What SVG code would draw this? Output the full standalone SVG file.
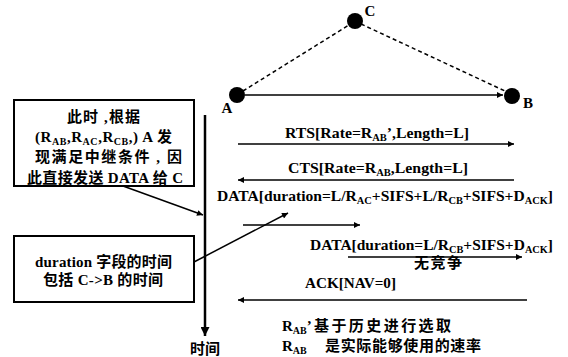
<svg xmlns="http://www.w3.org/2000/svg" width="568" height="357" viewBox="0 0 568 357">
<style>
.t{font-family:"Liberation Serif","Noto Sans CJK SC",serif;font-weight:bold;font-size:15px;fill:#000}
.c{font-family:"Liberation Serif","Noto Sans CJK SC",serif;font-weight:bold;font-size:15px;fill:#000}
.s{font-size:10px}
.ln{stroke:#000;stroke-width:1.5;fill:none}
.dash{stroke:#000;stroke-width:1.5;stroke-dasharray:4,3;fill:none}
.box{stroke:#000;stroke-width:2;fill:#fff}
.node{fill:#000}
</style>
<defs>
<marker id="ah" viewBox="0 0 10 10" refX="10" refY="5" markerWidth="10" markerHeight="6" markerUnits="userSpaceOnUse" orient="auto">
<path d="M0,0 L10,5 L0,10 z" fill="#000"/>
</marker>
<marker id="ahb" viewBox="0 0 10 10" refX="10" refY="5" markerWidth="12" markerHeight="9" markerUnits="userSpaceOnUse" orient="auto">
<path d="M0,0 L10,5 L0,10 z" fill="#000"/>
</marker>
</defs>
<rect width="568" height="357" fill="#fff"/>

<g id="connectors">
<line class="dash" x1="243" y1="91" x2="349" y2="25"/>
<line class="dash" x1="361" y1="24" x2="505" y2="91"/>
<line class="ln" x1="245" y1="95" x2="503" y2="95" marker-end="url(#ah)"/>
<line x1="205" y1="115" x2="205" y2="336" stroke="#000" stroke-width="2.5" marker-end="url(#ahb)"/>
<line class="ln" x1="238" y1="144" x2="514" y2="144" marker-end="url(#ah)"/>
<line class="ln" x1="514" y1="180" x2="238" y2="180" marker-end="url(#ah)"/>
<line class="ln" x1="243" y1="225" x2="360" y2="225" marker-end="url(#ah)"/>
<line class="ln" x1="348" y1="257" x2="522" y2="257" marker-end="url(#ah)"/>
<line class="ln" x1="527" y1="300" x2="238" y2="300" marker-end="url(#ah)"/>
<line class="ln" x1="123" y1="186" x2="203" y2="215" marker-end="url(#ah)"/>
<line class="ln" x1="194" y1="262" x2="288" y2="213" marker-end="url(#ah)"/>
</g>

<g id="node-A">
<circle class="node" cx="237" cy="95" r="8"/>
<text class="t" x="227" y="113" text-anchor="middle">A</text>
</g>
<g id="node-C">
<circle class="node" cx="355" cy="21" r="8"/>
<text class="t" x="370" y="16" text-anchor="middle">C</text>
</g>
<g id="node-B">
<circle class="node" cx="512" cy="96" r="8"/>
<text class="t" x="528" y="108" text-anchor="middle">B</text>
</g>

<g id="time-label">
<text class="c" x="190" y="354" textLength="30" lengthAdjust="spacing">时间</text>
</g>

<g id="box1">
<rect class="box" x="14" y="100" width="180" height="86"/>
<text class="c" x="67" y="122" textLength="73" lengthAdjust="spacing">此时 ,根据</text>
<text class="c" x="35" y="142" textLength="137" lengthAdjust="spacing">(R<tspan class="s" dy="3">AB</tspan><tspan dy="-3">,R</tspan><tspan class="s" dy="3">AC</tspan><tspan dy="-3">,R</tspan><tspan class="s" dy="3">CB</tspan><tspan dy="-3">,) A 发</tspan></text>
<text class="c" x="35" y="162" textLength="147" lengthAdjust="spacing">现满足中继条件 , 因</text>
<text class="c" x="27" y="183" textLength="156" lengthAdjust="spacing">此直接发送 DATA 给 C</text>
</g>

<g id="box2">
<rect class="box" x="14" y="236" width="180" height="66"/>
<text class="c" x="35" y="267" textLength="137" lengthAdjust="spacing">duration 字段的时间</text>
<text class="c" x="43" y="285" textLength="120" lengthAdjust="spacing">包括 C-&gt;B 的时间</text>
</g>

<g id="msg-rts">
<text class="t" x="285" y="138" textLength="184" lengthAdjust="spacingAndGlyphs">RTS[Rate=R<tspan class="s" dy="3">AB</tspan><tspan dy="-3">’,Length=L]</tspan></text>
</g>
<g id="msg-cts">
<text class="t" x="288" y="173" textLength="180" lengthAdjust="spacingAndGlyphs">CTS[Rate=R<tspan class="s" dy="3">AB</tspan><tspan dy="-3">,Length=L]</tspan></text>
</g>
<g id="msg-data1">
<text class="t" x="217" y="201" textLength="336" lengthAdjust="spacingAndGlyphs">DATA[duration=L/R<tspan class="s" dy="3">AC</tspan><tspan dy="-3">+SIFS+L/R</tspan><tspan class="s" dy="3">CB</tspan><tspan dy="-3">+SIFS+D</tspan><tspan class="s" dy="3">ACK</tspan><tspan dy="-3">]</tspan></text>
</g>
<g id="msg-data2">
<text class="t" x="310" y="250" textLength="243" lengthAdjust="spacingAndGlyphs">DATA[duration=L/R<tspan class="s" dy="3">CB</tspan><tspan dy="-3">+SIFS+D</tspan><tspan class="s" dy="3">ACK</tspan><tspan dy="-3">]</tspan></text>
<text class="c" x="414" y="268" textLength="48" lengthAdjust="spacing">无竞争</text>
</g>
<g id="msg-ack">
<text class="t" x="305" y="288" textLength="91" lengthAdjust="spacingAndGlyphs">ACK[NAV=0]</text>
</g>
<g id="notes">
<text class="c" x="282" y="331">R<tspan class="s" dy="3">AB</tspan><tspan dy="-3">’</tspan></text>
<text class="c" x="314" y="331" textLength="137" lengthAdjust="spacing">基于历史进行选取</text>
<text class="c" x="282" y="351">R<tspan class="s" dy="3">AB</tspan></text>
<text class="c" x="325" y="351" textLength="156" lengthAdjust="spacing">是实际能够使用的速率</text>
</g>
</svg>
